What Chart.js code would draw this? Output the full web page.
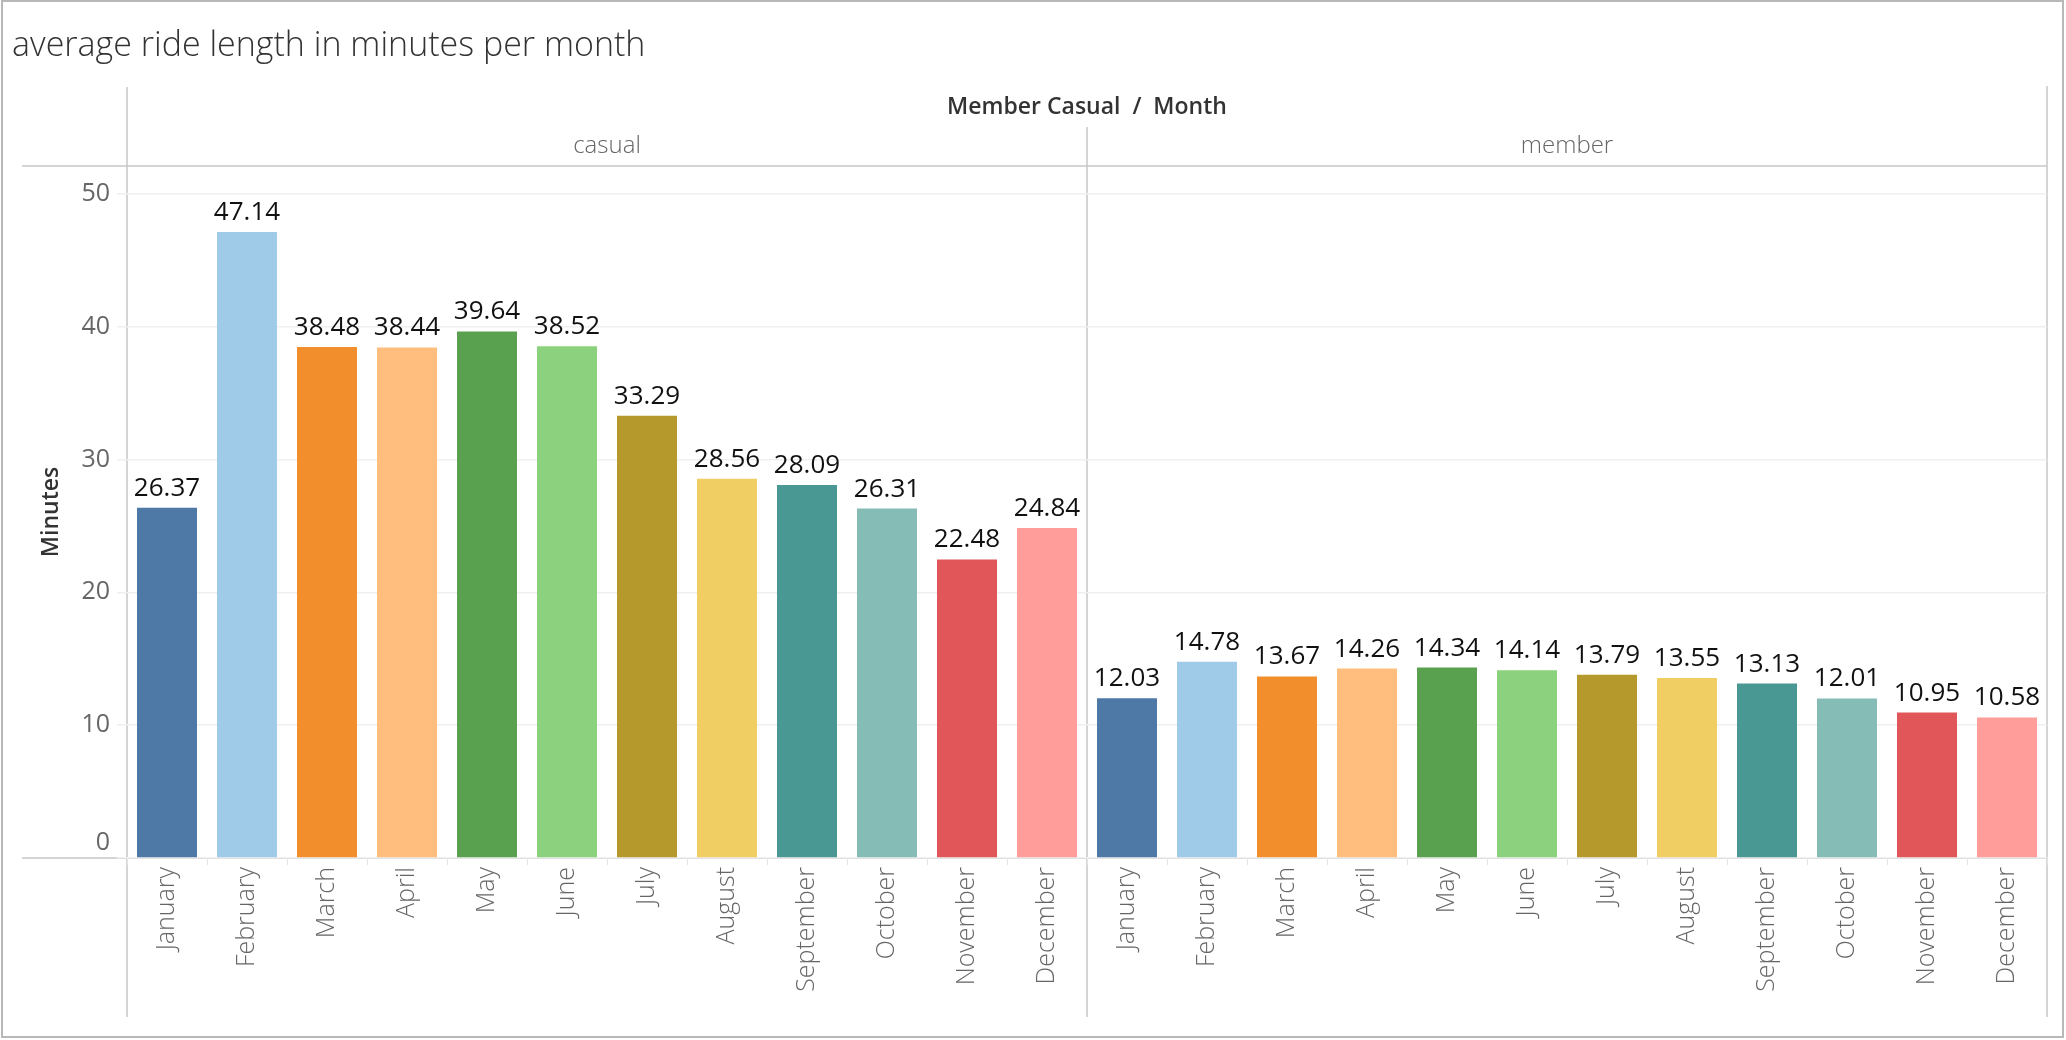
<!DOCTYPE html>
<html>
<head>
<meta charset="utf-8">
<script src="https://cdn.jsdelivr.net/npm/chart.js@4.4.1/dist/chart.umd.min.js"></script>
<style>
  html, body { margin: 0; padding: 0; background: #fff; }
  #wrap { width: 2066px; height: 1040px; position: relative; }
</style>
</head>
<body>
<div id="wrap"><canvas id="c" width="2066" height="1040"></canvas></div>
<script>
const chartTitle = 'average ride length in minutes per month';
const headerTitle = 'Member Casual  /  Month';
const groups = ['casual', 'member'];
const months = ['January','February','March','April','May','June','July','August','September','October','November','December'];
const casualMinutes = [26.37, 47.14, 38.48, 38.44, 39.64, 38.52, 33.29, 28.56, 28.09, 26.31, 22.48, 24.84];
const memberMinutes = [12.03, 14.78, 13.67, 14.26, 14.34, 14.14, 13.79, 13.55, 13.13, 12.01, 10.95, 10.58];
const monthColors = ['#4E79A7','#A0CBE8','#F28E2B','#FFBE7D','#59A14F','#8CD17D','#B6992D','#F1CE63','#499894','#86BCB6','#E15759','#FF9D9A'];
const yTicks = [0, 10, 20, 30, 40, 50];
const yAxisTitle = 'Minutes';

const FONT = '"Open Sans", Lato, sans-serif';
const LINE = '#c8c8c8';

const labels = months.concat(months);
const values = casualMinutes.concat(memberMinutes);
const colors = monthColors.concat(monthColors);

const framePlugin = {
  id: 'frame',
  beforeDraw(chart) {
    const ctx = chart.ctx;
    const ca = chart.chartArea;
    const xs = chart.scales.x;
    ctx.save();
    // outer border
    ctx.strokeStyle = '#b8b8b8';
    ctx.lineWidth = 2;
    ctx.strokeRect(2, 1, 2061, 1036);
    // title
    ctx.fillStyle = '#333333';
    ctx.font = '300 34px ' + FONT;
    ctx.textAlign = 'left';
    ctx.textBaseline = 'middle';
    ctx.fillText(chartTitle, 12, 46);
    // lines
    ctx.strokeStyle = LINE;
    ctx.lineWidth = 1.5;
    const divX = (xs.getPixelForValue(months.length - 1) + xs.getPixelForValue(months.length)) / 2;
    ctx.beginPath();
    ctx.moveTo(ca.left, 87); ctx.lineTo(ca.left, 1017);
    ctx.moveTo(ca.right, 86); ctx.lineTo(ca.right, 1017);
    ctx.moveTo(divX, 127); ctx.lineTo(divX, 1017);
    ctx.moveTo(22, ca.top); ctx.lineTo(ca.right, ca.top);
    ctx.moveTo(22, ca.bottom); ctx.lineTo(ca.right, ca.bottom);
    ctx.stroke();
    // header texts
    ctx.textAlign = 'center';
    ctx.fillStyle = '#333333';
    ctx.font = '600 23px ' + FONT;
    ctx.fillText(headerTitle, (ca.left + ca.right) / 2, 107);
    ctx.fillStyle = '#666666';
    ctx.font = '300 24px ' + FONT;
    ctx.fillText(groups[0], (ca.left + divX) / 2, 146);
    ctx.fillText(groups[1], (divX + ca.right) / 2, 146);
    ctx.restore();
  }
};

const valueLabels = {
  id: 'valueLabels',
  afterDatasetsDraw(chart) {
    const ctx = chart.ctx;
    const meta = chart.getDatasetMeta(0);
    ctx.save();
    ctx.fillStyle = '#111111';
    ctx.font = '400 26px ' + FONT;
    ctx.textAlign = 'center';
    ctx.textBaseline = 'alphabetic';
    meta.data.forEach((bar, i) => {
      const v = chart.data.datasets[0].data[i];
      ctx.fillText(v.toFixed(2), bar.x, bar.y - 12);
    });
    ctx.restore();
  }
};

new Chart(document.getElementById('c'), {
  type: 'bar',
  data: {
    labels: labels,
    datasets: [{
      data: values,
      backgroundColor: colors,
      borderWidth: 0,
      categoryPercentage: 1,
      barPercentage: 0.75
    }]
  },
  options: {
    responsive: false,
    animation: false,
    devicePixelRatio: 1,
    layout: { padding: { left: 0, top: 166, right: 19, bottom: 0 } },
    plugins: { legend: { display: false }, tooltip: { enabled: false }, title: { display: false } },
    scales: {
      x: {
        type: 'category',
        border: { display: false },
        grid: { display: true, drawOnChartArea: false, drawTicks: true, tickLength: 7, color: '#e4e4e4', offset: true },
        ticks: {
          autoSkip: false, maxRotation: 90, minRotation: 90, padding: 2,
          color: '#666666', font: { family: FONT, size: 25, weight: '300' }
        },
        afterFit(scale) { scale.height = 182; }
      },
      y: {
        min: 0, max: 52.1,
        border: { display: false },
        grid: { color: '#efefef', tickLength: 10, lineWidth: 1.5 },
        ticks: {
          stepSize: 10, padding: 7, color: '#666666',
          font: { family: FONT, size: 25, weight: '400' },
          callback: (v) => v === 0 ? ['0', ''] : String(v)
        },
        afterBuildTicks(scale) { scale.ticks = yTicks.map(v => ({ value: v })); },
        title: {
          display: true, text: yAxisTitle, color: '#333333',
          font: { family: FONT, size: 23, weight: '600' },
          padding: { top: 38, bottom: 0 }
        },
        afterFit(scale) { scale.width = 127; }
      }
    }
  },
  plugins: [framePlugin, valueLabels]
});
</script>
</body>
</html>
